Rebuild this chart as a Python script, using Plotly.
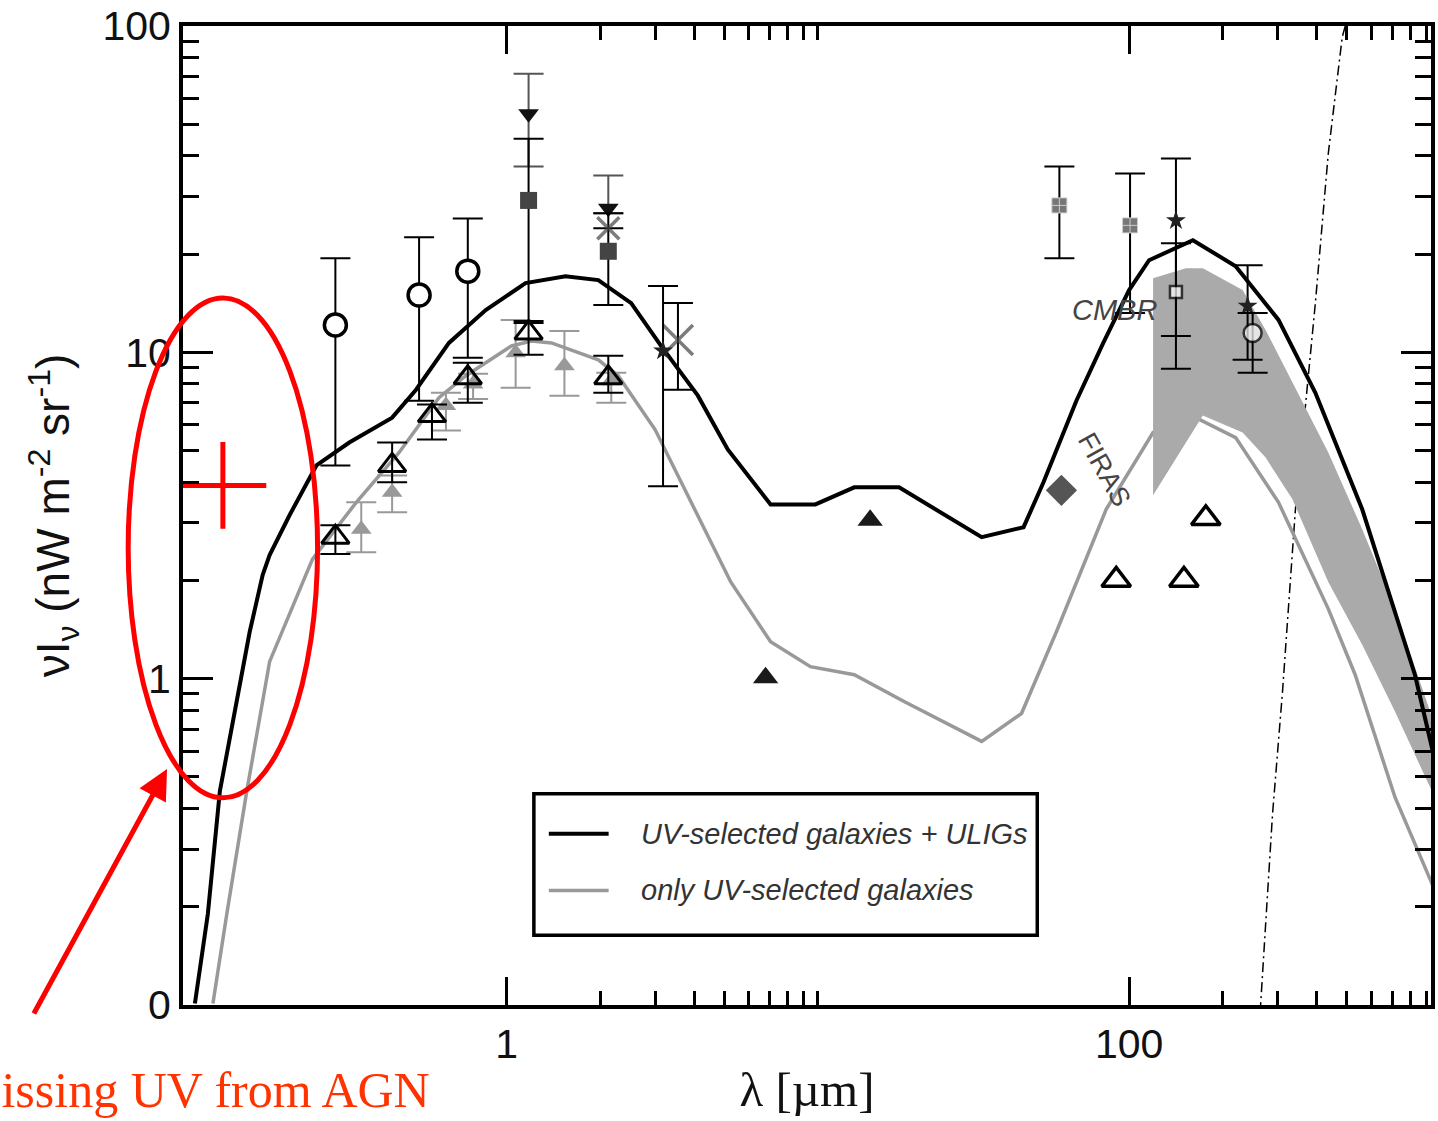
import numpy as np
import plotly.graph_objects as go

# ---------------- model curves: wavelength [micron] vs nu*I_nu [nW m^-2 sr^-1]
wl_total = [0.0996, 0.1096, 0.1198, 0.1358, 0.1494, 0.1644, 0.1731, 0.2006, 0.2447, 0.3121,
            0.4285, 0.5114, 0.6524, 0.8565, 1.150, 1.545, 1.970, 2.512, 3.133, 4.115,
            5.133, 7.047, 9.817, 13.09, 18.23, 33.6, 45.8, 53.07, 67.7, 82.6,
            100.0, 115.9, 160.3, 220.0, 302.0, 396.7, 561.0, 828.7, 946.0]
nuI_total = [0.101, 0.190, 0.452, 0.851, 1.392, 2.078, 2.391, 3.168, 4.502, 5.293,
             6.31, 7.68, 10.69, 13.48, 16.30, 17.12, 16.65, 14.16, 10.47, 7.366,
             5.04, 3.42, 3.42, 3.857, 3.857, 2.714, 2.912, 3.996, 7.11, 10.69,
             15.52, 19.16, 22.06, 18.37, 12.57, 7.52, 3.304, 1.028, 0.598]

wl_uv = [0.1138, 0.1261, 0.1462, 0.1644, 0.1731, 0.2377, 0.3287, 0.4513, 0.6059, 0.7393,
         1.037, 1.202, 1.393, 1.970, 2.283, 2.998, 3.551, 4.529, 5.248, 7.047,
         9.462, 13.09, 18.92, 33.6, 45.1, 58.4, 84.4, 119.4, 163.8, 220.0,
         302.0, 436.5, 532.5, 715.0, 946.0]
nuI_uv = [0.101, 0.190, 0.452, 0.851, 1.127, 2.325, 3.47, 4.934, 7.26, 8.478,
          10.47, 10.84, 10.69, 9.486, 8.478, 5.80, 4.197, 2.62, 1.978, 1.297,
          1.088, 1.028, 0.851, 0.642, 0.782, 1.392, 3.304, 5.68, 6.31, 5.48,
          3.47, 1.636, 1.028, 0.433, 0.232]

# FIRAS band
band_wl = [119.4, 152.2, 172.5, 231.6, 274.5, 334.8, 436.5, 561.0, 715.0, 939.0]
band_lo = [3.646, 5.29, 6.40, 5.68, 4.76, 3.545, 1.978, 1.27, 0.793, 0.452]
band_hi = [16.88, 18.11, 18.11, 15.52, 11.71, 8.07, 4.93, 2.871, 1.636, 0.766]

# CMB
cmb_wl = [494.9, 484.0, 436.5, 396.7, 342.3, 311.1, 288.9, 264.5]
cmb_nuI = [100.0, 92.6, 40.7, 14.16, 3.304, 0.913, 0.384, 0.0997]

# ---------------- measurements (value, upper and lower error limits)
circ_wl = [0.2816, 0.5231, 0.750]
circ_v = [12.13, 14.98, 17.74]
circ_hi = [19.43, 22.53, 25.74]
circ_lo = [4.502, 7.11, 9.621]

otri_wl = [0.2816, 0.4285, 0.5754, 0.750, 1.176, 2.121]
otri_v = [2.714, 4.502, 6.40, 8.36, 11.47, 8.36]
otri_hi = [2.953, 5.29, 6.916, 9.29, 12.48, 9.757]
otri_lo = [2.408, 3.996, 5.405, 7.013, 9.826, 7.52]

gtri_wl = [0.341, 0.4285, 0.638, 0.78, 1.0686, 1.533, 2.168]
gtri_v = [2.871, 3.724, 6.867, 8.0, 9.965, 9.096, 8.185]
gtri_hi = [3.47, 4.197, 7.52, 8.6, 12.57, 11.63, 8.659]
gtri_lo = [2.442, 3.236, 5.76, 7.2, 7.79, 7.366, 7.013]

dtri_wl = [1.176, 2.121]
dtri_v = [53.86, 27.63]
dtri_hi = [71.4, 34.83]
dtri_lo = [37.11, 26.67]

sq_wl = [1.176, 2.121]
sq_v = [29.22, 20.41]
sq_hi = [45.19, 26.67]
sq_lo = [12.31, 13.96]

xm_wl = [2.121, 3.551]
xm_v = [24.0, 10.92]
xm_hi = [24.0, 14.16]
xm_lo = [24.0, 7.68]

star_wl = [3.180, 141.4, 240.3]
star_v = [10.11, 25.38, 13.87]
star_hi = [15.96, 39.26, 18.50]
star_lo = [3.884, 11.23, 9.486]

grid_wl = [59.7, 100.7]
grid_v = [28.21, 24.50]
grid_hi = [37.11, 35.33]
grid_lo = [19.43, 13.20]

small_wl = [141.4, 249.4]
small_v = [15.30, 11.47]
small_hi = [21.60, 13.20]
small_lo = [8.906, 8.659]

ftri_wl = [6.792, 14.72]
ftri_v = [1.007, 3.058]

otri2_wl = [90.9, 150.0, 176.4]
otri2_v = [2.006, 2.006, 3.1]

diam_wl = [60.6]
diam_v = [3.776]

agn_wl = [0.1225]
agn_v = [3.91]

FONT = "Liberation Sans, Arial, sans-serif"
SERIF = "Liberation Serif, Times New Roman, serif"

# plot-area geometry in pixels (used for paper-coordinate decorations)
W, H = 1438, 1121
L, R, T, B = 183, 3, 22, 116
PW, PH = W - L - R, H - T - B


def px(xp):
    return (xp - L) / PW


def py(yp):
    return (H - B - yp) / PH


def errs(v, hi, lo):
    v, hi, lo = map(np.asarray, (v, hi, lo))
    return dict(type="data", symmetric=False, array=hi - v, arrayminus=v - lo)


fig = go.Figure()

# CMB
fig.add_trace(go.Scatter(x=cmb_wl, y=cmb_nuI, mode="lines",
                         line=dict(color="black", width=1.5, dash="10px,4px,2px,4px"),
                         showlegend=False))

# UV-only model (lies partly beneath the FIRAS band)
fig.add_trace(go.Scatter(x=wl_uv, y=nuI_uv, mode="lines", line=dict(color="#999999", width=3.5),
                         name="only UV-selected galaxies", showlegend=False))

# FIRAS band
fig.add_trace(go.Scatter(x=band_wl, y=band_lo, mode="lines", line=dict(width=0, color="#aaaaaa"),
                         showlegend=False, hoverinfo="skip"))
fig.add_trace(go.Scatter(x=band_wl, y=band_hi, mode="lines", line=dict(width=0, color="#aaaaaa"),
                         fill="tonexty", fillcolor="#aaaaaa", showlegend=False))

fig.add_trace(go.Scatter(x=wl_total, y=nuI_total, mode="lines", line=dict(color="black", width=4),
                         name="UV-selected galaxies + ULIGs", showlegend=False))

EB = dict(thickness=2, width=15)

# grey filled triangles
fig.add_trace(go.Scatter(x=gtri_wl, y=gtri_v, mode="markers",
                         marker=dict(symbol="triangle-up", size=18, color="#999999"),
                         error_y=dict(**errs(gtri_v, gtri_hi, gtri_lo), color="#999999", **EB),
                         showlegend=False))
# open triangles
fig.add_trace(go.Scatter(x=otri_wl, y=otri_v, mode="markers",
                         marker=dict(symbol="triangle-up-open", size=24, color="black", line=dict(width=3)),
                         error_y=dict(**errs(otri_v, otri_hi, otri_lo), color="black", **EB),
                         showlegend=False))
# open circles
fig.add_trace(go.Scatter(x=circ_wl, y=circ_v, mode="markers",
                         marker=dict(symbol="circle", size=22, color="white", line=dict(width=3.5, color="black")),
                         error_y=dict(**errs(circ_v, circ_hi, circ_lo), color="black", **EB),
                         showlegend=False))
# filled downward triangles
fig.add_trace(go.Scatter(x=dtri_wl, y=dtri_v, mode="markers",
                         marker=dict(symbol="triangle-down", size=18, color="#111111"),
                         error_y=dict(**errs(dtri_v, dtri_hi, dtri_lo), color="#555555", **EB),
                         showlegend=False))
# filled squares
fig.add_trace(go.Scatter(x=sq_wl, y=sq_v, mode="markers",
                         marker=dict(symbol="square", size=17, color="#444444"),
                         error_y=dict(**errs(sq_v, sq_hi, sq_lo), color="black", **EB),
                         showlegend=False))
# crosses
fig.add_trace(go.Scatter(x=xm_wl, y=xm_v, mode="markers",
                         marker=dict(symbol="x-thin-open", size=[22, 30], color="#444444", line=dict(width=3.5, color="#444444")),
                         error_y=dict(**errs(xm_v, xm_hi, xm_lo), color="black", **EB),
                         showlegend=False))
# stars
fig.add_trace(go.Scatter(x=star_wl, y=star_v, mode="markers",
                         marker=dict(symbol="star", size=15, color="#222222"),
                         error_y=dict(**errs(star_v, star_hi, star_lo), color="black", **EB),
                         showlegend=False))
# hatched squares
fig.add_trace(go.Scatter(x=grid_wl, y=grid_v, mode="markers",
                         marker=dict(symbol="square-cross", size=15, color="#777777", line=dict(width=1, color="#cccccc")),
                         error_y=dict(**errs(grid_v, grid_hi, grid_lo), color="black", **EB),
                         showlegend=False))
# small open markers
fig.add_trace(go.Scatter(x=small_wl, y=small_v, mode="markers",
                         marker=dict(symbol=["square", "circle"], size=[12, 18], color="white",
                                     line=dict(width=2.5, color="black")),
                         error_y=dict(**errs(small_v, small_hi, small_lo), color="black", **EB),
                         showlegend=False))
# filled black triangles
fig.add_trace(go.Scatter(x=ftri_wl, y=ftri_v, mode="markers",
                         marker=dict(symbol="triangle-up", size=22, color="#1a1a1a"),
                         showlegend=False))
# open triangles (far IR)
fig.add_trace(go.Scatter(x=otri2_wl, y=otri2_v, mode="markers",
                         marker=dict(symbol="triangle-up-open", size=25, color="black", line=dict(width=3.5)),
                         showlegend=False))
# diamond
fig.add_trace(go.Scatter(x=diam_wl, y=diam_v, mode="markers",
                         marker=dict(symbol="diamond", size=24, color="#555555"),
                         showlegend=False))
# AGN UV point
fig.add_trace(go.Scatter(x=agn_wl, y=agn_v, mode="markers",
                         marker=dict(symbol="cross-thin-open", size=62, color="red", line=dict(width=5, color="red")),
                         showlegend=False))

axis_common = dict(type="log", showline=True, linewidth=4, linecolor="black", mirror="allticks",
                   ticks="inside", tickwidth=3, tickcolor="black", showgrid=False, zeroline=False,
                   ticklabeloverflow="allow",
                   tickfont=dict(family=FONT, size=41, color="#111111"))

fig.update_xaxes(**axis_common, range=[-1.04, 2.97], tickmode="array", tickvals=[1, 100],
                 ticktext=["1", "100"], ticklen=28,
                 minor=dict(tickmode="array", tickvals=[2, 3, 4, 5, 6, 7, 8, 9, 10,
                                                         200, 300, 400, 500, 600, 700, 800, 900],
                            ticks="inside", ticklen=14, tickwidth=3, tickcolor="black"),
                 title=dict(text="λ [µm]", font=dict(family=SERIF, size=49, color="#111111"), standoff=6))

ymin = [0.2, 0.3, 0.4, 0.5, 0.6, 0.7, 0.8, 0.9, 2, 3, 4, 5, 6, 7, 8, 9,
        20, 30, 40, 50, 60, 70, 80, 90]
fig.update_yaxes(**axis_common, range=[-1.0003, 2.0003], tickmode="array", tickvals=[0.1, 1, 10, 100],
                 ticktext=["0", "1", "10", "100"], ticklen=30,
                 minor=dict(tickmode="array", tickvals=ymin, ticks="inside", ticklen=16, tickwidth=3,
                            tickcolor="black"),
                 title=dict(text="νI<sub>ν</sub> (nW m<sup>-2</sup> sr<sup>-1</sup>)",
                            font=dict(family=FONT, size=46, color="#111111"), standoff=19))

shapes = [
    # legend frame and samples
    dict(type="rect", xref="paper", yref="paper", x0=px(535), x1=px(1040), y0=py(935), y1=py(793),
         line=dict(color="black", width=3.5), fillcolor="white", layer="above"),
    dict(type="line", xref="paper", yref="paper", x0=px(550), x1=px(610), y0=py(833), y1=py(833),
         line=dict(color="black", width=4)),
    dict(type="line", xref="paper", yref="paper", x0=px(550), x1=px(610), y0=py(890), y1=py(890),
         line=dict(color="#999999", width=3.5)),
    # AGN highlight
    dict(type="circle", xref="paper", yref="paper", x0=px(128), x1=px(318), y0=py(797), y1=py(295),
         line=dict(color="red", width=5)),
]

annotations = [
    dict(xref="paper", yref="paper", x=px(640), y=py(833), xanchor="left", yanchor="middle",
         text="<i>UV-selected galaxies + ULIGs</i>", showarrow=False,
         font=dict(family=FONT, size=29, color="#333333")),
    dict(xref="paper", yref="paper", x=px(640), y=py(890), xanchor="left", yanchor="middle",
         text="<i>only UV-selected galaxies</i>", showarrow=False,
         font=dict(family=FONT, size=29, color="#333333")),
    dict(x=np.log10(89.5), y=np.log10(13.48), xref="x", yref="y", text="<i>CMBR</i>", showarrow=False,
         font=dict(family=FONT, size=29, color="#444444")),
    dict(x=np.log10(83.2), y=np.log10(4.35), xref="x", yref="y", text="FIRAS", showarrow=False,
         textangle=61, font=dict(family=FONT, size=27, color="#444444")),
    dict(xref="paper", yref="paper", x=px(167), y=py(768), ax=-134, ay=246, text="",
         showarrow=True, arrowhead=2, arrowsize=1.2, arrowwidth=5, arrowcolor="red"),
    dict(xref="paper", yref="paper", x=px(433), y=py(1090), xanchor="right", yanchor="middle",
         text="Missing UV from AGN", showarrow=False,
         font=dict(family=SERIF, size=50, color="#ff3300")),
]

fig.update_layout(width=W, height=H, margin=dict(l=L, r=R, t=T, b=B, pad=0),
                  paper_bgcolor="white", plot_bgcolor="white", showlegend=False,
                  shapes=shapes, annotations=annotations)

fig.write_html("out.html")
